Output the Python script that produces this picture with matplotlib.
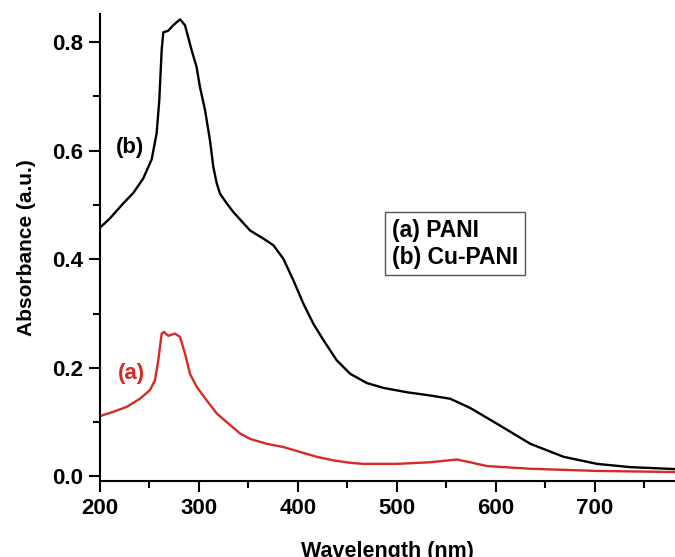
import matplotlib
matplotlib.use('Agg')
import matplotlib.pyplot as plt
import numpy as np

plt.rcParams['font.family'] = ['Liberation Sans', 'DejaVu Sans']

# Cu-PANI (b), black
wl_b = [200, 210, 223.6, 233.7, 243.8, 252.3, 257.3, 260, 262.4, 264, 269, 274, 281, 286,
        292.7, 297.7, 301, 306.2, 311.2, 314.6, 318, 321.3, 328.1, 334.8, 351.7, 365.2,
        375.2, 385.3, 395.5, 405.6, 415.7, 425.8, 439.2, 452.8, 469.6, 486.5, 510, 533.7,
        553.9, 574.1, 601.1, 634.8, 668.5, 702.2, 735.9, 780]
abs_b = [0.458, 0.475, 0.503, 0.522, 0.549, 0.584, 0.632, 0.693, 0.785, 0.818, 0.821, 0.831,
         0.842, 0.831, 0.785, 0.754, 0.718, 0.675, 0.619, 0.570, 0.540, 0.521, 0.503, 0.487,
         0.453, 0.438, 0.426, 0.401, 0.361, 0.318, 0.281, 0.251, 0.214, 0.189, 0.172, 0.163,
         0.155, 0.149, 0.143, 0.126, 0.097, 0.060, 0.036, 0.023, 0.017, 0.0135]

# PANI (a), red
wl_a = [200, 213.5, 227, 240.4, 250.6, 255.6, 259, 262.4, 264.7, 269.1, 275.8, 280.9, 286,
        291, 297.8, 307.9, 318, 328.1, 341.6, 351.7, 368.6, 385.3, 402.2, 419.1, 435.9,
        452.8, 466.2, 500, 533.7, 560.6, 574, 591, 634.8, 702.2, 780]
abs_a = [0.111, 0.119, 0.128, 0.143, 0.159, 0.177, 0.214, 0.263, 0.266, 0.259, 0.263, 0.257,
         0.226, 0.189, 0.165, 0.140, 0.116, 0.100, 0.079, 0.069, 0.060, 0.054, 0.045, 0.036,
         0.0295, 0.025, 0.023, 0.023, 0.026, 0.031, 0.026, 0.019, 0.014, 0.010, 0.008]

red = '#d62a24'

fig = plt.figure(figsize=(6.75, 5.57), dpi=100)
ax = fig.add_axes([0.148, 0.136, 0.852, 0.839])

ax.plot(wl_b, abs_b, color='black', lw=1.7, solid_joinstyle='round')
ax.plot(wl_a, abs_a, color=red, lw=1.7, solid_joinstyle='round')

ax.set_xlim(200, 781)
ax.set_ylim(-0.009, 0.852)
ax.spines['top'].set_visible(False)
ax.spines['right'].set_visible(False)
ax.spines['left'].set_linewidth(1.5)
ax.spines['bottom'].set_linewidth(1.5)

ax.set_xticks([200, 300, 400, 500, 600, 700])
ax.set_xticks([250, 350, 450, 550, 650, 750], minor=True)
ax.set_yticks([0.0, 0.2, 0.4, 0.6, 0.8])
ax.set_yticks([0.1, 0.3, 0.5, 0.7], minor=True)
ax.set_yticklabels(['0.0', '0.2', '0.4', '0.6', '0.8'])
ax.tick_params(which='major', length=8, width=1.5, labelsize=16, pad=4)
ax.tick_params(which='minor', length=5, width=1.5)
for lab in ax.get_xticklabels() + ax.get_yticklabels():
    lab.set_fontweight('bold')

ax.set_xlabel('Wavelength (nm)', fontsize=15.5, fontweight='bold', labelpad=16)
ax.set_ylabel('Absorbance (a.u.)', fontsize=15, fontweight='bold', labelpad=12)

ax.text(230.3, 0.606, '(b)', fontsize=16, fontweight='bold', ha='center', va='center')
ax.text(232, 0.19, '(a)', fontsize=16, fontweight='bold', ha='center', va='center', color=red)

ax.text(0.508, 0.455, '(a) PANI\n(b) Cu-PANI', transform=ax.transAxes, fontsize=16.5,
        fontweight='bold', va='bottom', ha='left', linespacing=1.2,
        bbox=dict(boxstyle='square,pad=0.3', facecolor='white', edgecolor='#555555', lw=1))

fig.savefig('out.png', dpi=100)
